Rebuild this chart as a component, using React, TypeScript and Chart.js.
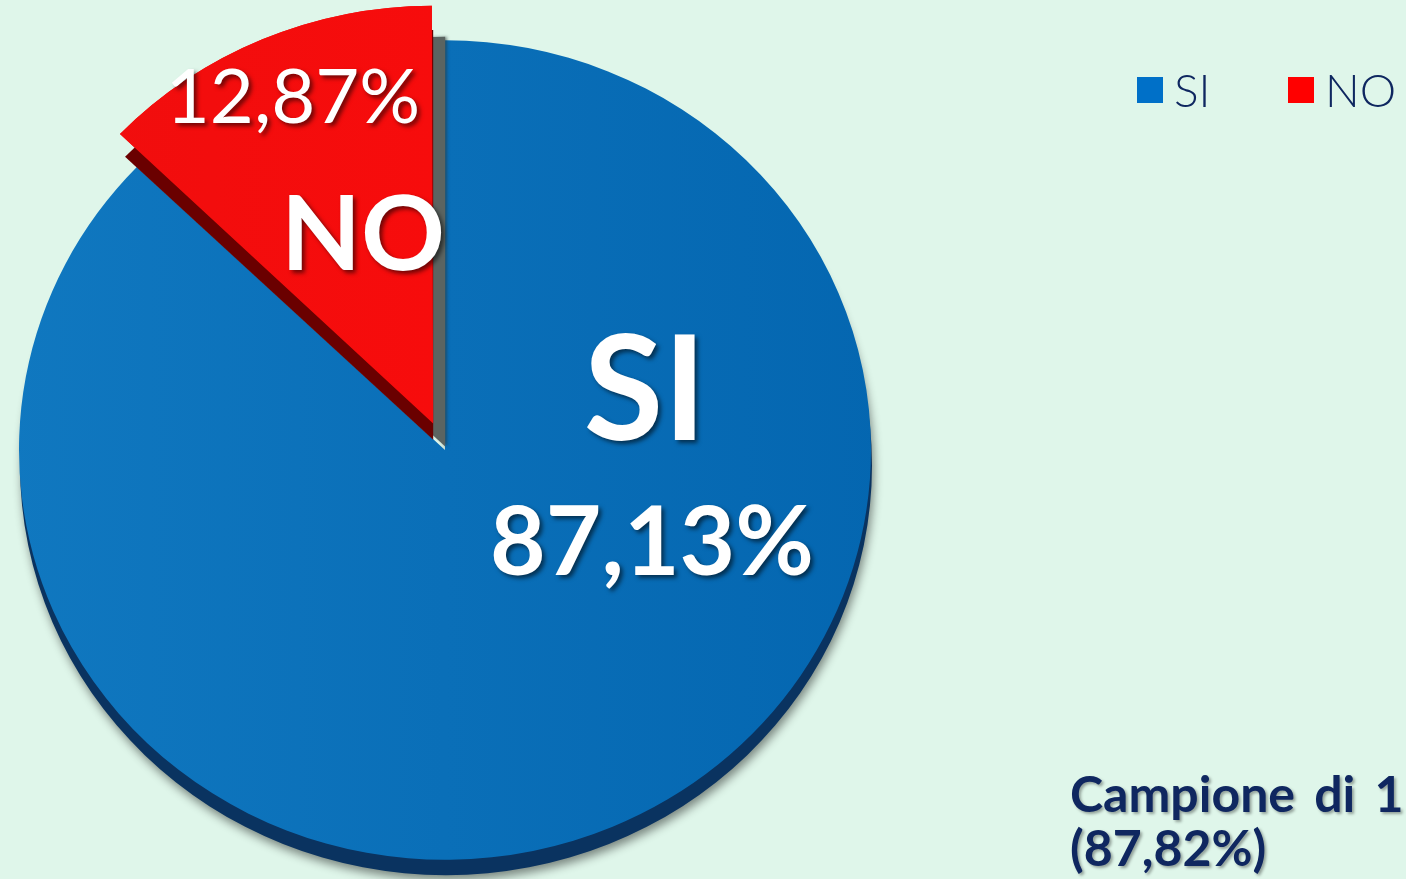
import React, { useEffect, useRef } from "react";
import { Chart, registerables } from "chart.js";

Chart.register(...registerables);

const categories = ["SI", "NO"];
const values = [87.13, 12.87];
const valueLabels = ["87,13%", "12,87%"];
const legendColors = ["#0070c8", "#ff0000"];
const footnoteLines = ["Campione di 1", "(87,82%)"];

const BG = "#dff6ea";
const NAVY = "#0f2760";
const FONT = "Lato, 'Open Sans', 'DejaVu Sans', sans-serif";
const TILT = 0.962; // vertical squash of the pie (3D look)

// label placement relative to the pie centre, in px
const labelLayout = [
  { name: { dx: 200, dy: -10, size: 145 }, pct: { dx: 207, dy: 125, size: 96 } },
  { name: { dx: -82, dy: -180, size: 104 }, pct: { dx: -152, dy: -327, size: 76 } },
];

function arcPath(ctx: CanvasRenderingContext2D, arc: any, dx: number, dy: number) {
  const p = arc.getProps(["x", "y", "startAngle", "endAngle", "outerRadius"]);
  const off = (arc.options.offset || 0) / 4;
  const mid = (p.startAngle + p.endAngle) / 2;
  const cx = p.x + Math.cos(mid) * off + dx;
  const cy = p.y + Math.sin(mid) * off + dy;
  ctx.beginPath();
  ctx.moveTo(cx, cy);
  ctx.arc(cx, cy, p.outerRadius, p.startAngle, p.endAngle);
  ctx.closePath();
}

const pie3d = {
  id: "pie3d",
  beforeDatasetsDraw(chart: any) {
    const ctx: CanvasRenderingContext2D = chart.ctx;
    const arcs = chart.getDatasetMeta(0).data;
    const blue = arcs[0];
    const c = blue.getProps(["x", "y"]);
    ctx.save();
    ctx.translate(c.x, c.y);
    ctx.scale(1, TILT);
    ctx.translate(-c.x, -c.y);
    ctx.save();
    ctx.shadowColor = "rgba(0,0,0,0.45)";
    ctx.shadowBlur = 10;
    ctx.shadowOffsetX = 2;
    ctx.shadowOffsetY = 5;
    ctx.fillStyle = "#0a3360";
    arcPath(ctx, blue, 1, 16);
    ctx.fill();
    ctx.restore();
  },
  afterDatasetsDraw(chart: any) {
    const ctx: CanvasRenderingContext2D = chart.ctx;
    const arcs = chart.getDatasetMeta(0).data;
    const red = arcs[1];
    // grey side / cast shadow
    ctx.save();
    ctx.shadowColor = "rgba(40,50,50,0.5)";
    ctx.shadowBlur = 3;
    ctx.shadowOffsetX = 2;
    ctx.fillStyle = "#5b6461";
    arcPath(ctx, red, 12, 24);
    ctx.fill();
    ctx.restore();
    // dark red side
    ctx.save();
    ctx.fillStyle = "#6a0000";
    arcPath(ctx, red, 0, 17);
    ctx.fill();
    ctx.restore();
    red.draw(ctx);
    ctx.restore(); // end tilt

    const base = arcs[0].getProps(["x", "y"]);
    ctx.save();
    ctx.fillStyle = "#ffffff";
    ctx.textAlign = "center";
    ctx.textBaseline = "alphabetic";
    ctx.shadowColor = "rgba(0,0,0,0.55)";
    ctx.shadowBlur = 4;
    ctx.shadowOffsetX = 3;
    ctx.shadowOffsetY = 3;
    labelLayout.forEach((l, i) => {
      ctx.font = `bold ${l.name.size}px ${FONT}`;
      ctx.fillText(categories[i], base.x + l.name.dx, base.y + l.name.dy);
      ctx.font = `${i === 0 ? "bold" : "normal"} ${l.pct.size}px ${FONT}`;
      ctx.fillText(valueLabels[i], base.x + l.pct.dx, base.y + l.pct.dy);
    });
    ctx.restore();
  },
};

function sliceColor(c: any) {
  const chart = c.chart;
  const ca = chart.chartArea;
  const idx = c.dataIndex;
  if (!ca) return idx === 0 ? "#0a6db6" : "#f20b0b";
  const g = chart.ctx.createLinearGradient(ca.left, 0, ca.right, 0);
  if (idx === 0) {
    g.addColorStop(0, "#1078c0");
    g.addColorStop(1, "#0466b0");
  } else {
    g.addColorStop(0, "#ef0e0e");
    g.addColorStop(1, "#ff0a0a");
  }
  return g;
}

export default function App() {
  const ref = useRef<HTMLCanvasElement | null>(null);

  useEffect(() => {
    document.body.style.margin = "0";
    const canvas = ref.current!;
    const chart = new Chart(canvas, {
      type: "pie",
      data: {
        labels: categories,
        datasets: [
          {
            data: values,
            backgroundColor: sliceColor,
            borderWidth: 0,
            offset: [0, 120],
          },
        ],
      },
      options: {
        responsive: false,
        animation: false,
        radius: 426,
        rotation: 0,
        layout: { padding: { left: 0, top: 0, right: 516, bottom: 0 } },
        plugins: {
          legend: { display: false },
          tooltip: { enabled: false },
        },
      } as any,
      plugins: [pie3d],
    });
    return () => chart.destroy();
  }, []);

  return (
    <div
      style={{
        position: "fixed",
        left: 0,
        top: 0,
        width: 1406,
        height: 879,
        overflow: "hidden",
        background: BG,
      }}
    >
      <canvas ref={ref} width={1406} height={900} style={{ position: "absolute", left: 0, top: 0 }} />
      {categories.map((c, i) => (
        <div
          key={c}
          style={{
            position: "absolute",
            left: i === 0 ? 1137 : 1288,
            top: 67,
            height: 46,
            display: "flex",
            alignItems: "center",
            fontFamily: FONT,
            fontSize: 46,
            fontWeight: 300,
            color: NAVY,
            lineHeight: "46px",
          }}
        >
          <span style={{ display: "inline-block", width: 26, height: 26, background: legendColors[i], marginRight: 11 }} />
          <span>{c}</span>
        </div>
      ))}
      <div
        style={{
          position: "absolute",
          left: 1070,
          top: 766,
          fontFamily: FONT,
          fontSize: 50,
          fontWeight: 700,
          lineHeight: "54px",
          color: NAVY,
          whiteSpace: "nowrap",
          wordSpacing: 7,
          textShadow: "2px 2px 3px rgba(0,0,0,0.35)",
        }}
      >
        {footnoteLines.map((t) => (
          <div key={t}>{t}</div>
        ))}
      </div>
    </div>
  );
}
